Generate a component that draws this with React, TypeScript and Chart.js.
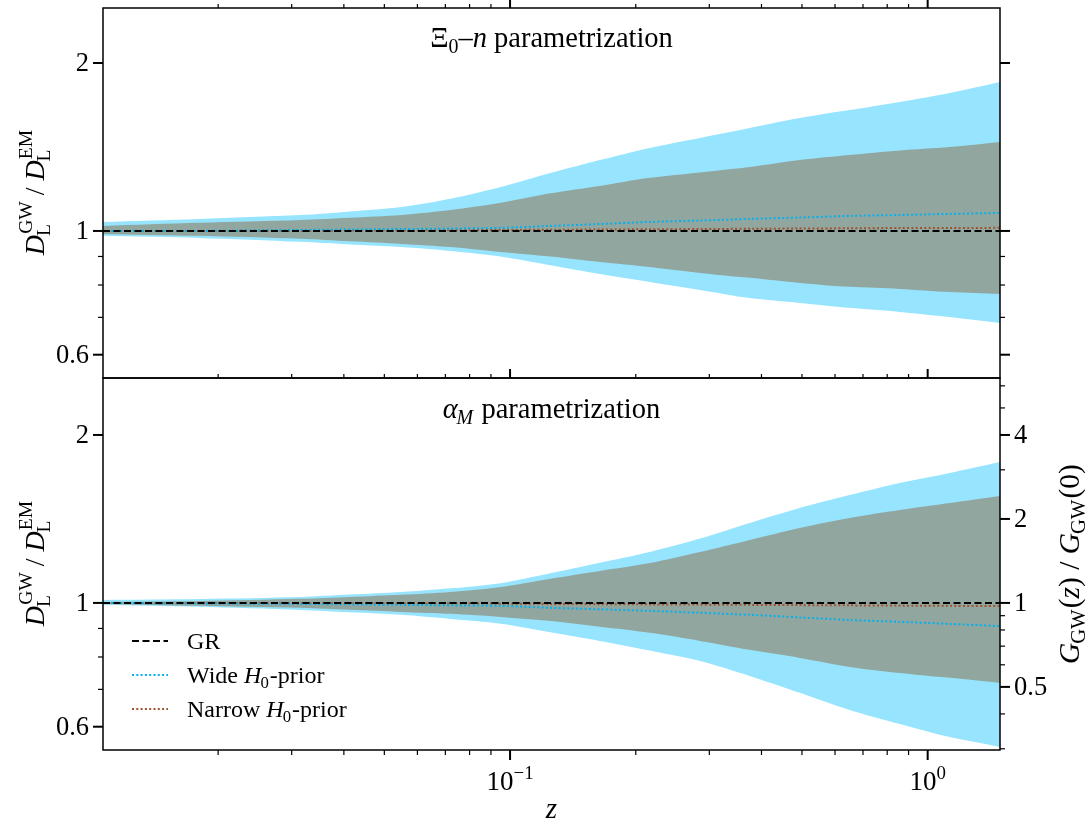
import React, { useEffect, useRef } from 'react';
import { Chart, registerables } from 'chart.js';

Chart.register(...registerables);

// ---------------- data ----------------
const zValues = [0.0106, 0.018, 0.0315, 0.0414, 0.055, 0.072, 0.095, 0.125, 0.164, 0.216, 0.285, 0.375, 0.494, 0.65, 0.857, 1.13, 1.49];

// Xi0-n parametrization (top panel)
const xiWideUpper = [1.038, 1.051, 1.068, 1.084, 1.104, 1.142, 1.199, 1.270, 1.340, 1.409, 1.468, 1.530, 1.594, 1.647, 1.703, 1.767, 1.849];
const xiWideLower = [0.980, 0.9715, 0.956, 0.946, 0.936, 0.921, 0.900, 0.868, 0.837, 0.810, 0.784, 0.758, 0.743, 0.728, 0.716, 0.701, 0.684];
const xiNarrowUpper = [1.021, 1.034, 1.046, 1.056, 1.068, 1.090, 1.123, 1.168, 1.204, 1.245, 1.273, 1.302, 1.340, 1.368, 1.394, 1.414, 1.444];
const xiNarrowLower = [0.988, 0.980, 0.968, 0.958, 0.948, 0.936, 0.917, 0.900, 0.880, 0.862, 0.841, 0.824, 0.807, 0.794, 0.787, 0.777, 0.771];
const xiWideMedian = [1.000, 1.000, 1.004, 1.006, 1.008, 1.010, 1.013, 1.021, 1.029, 1.038, 1.044, 1.051, 1.057, 1.064, 1.068, 1.073, 1.077];
const xiNarrowMedian = [1.000, 1.000, 1.001, 1.0015, 1.002, 1.003, 1.004, 1.005, 1.006, 1.007, 1.008, 1.009, 1.010, 1.011, 1.012, 1.012, 1.013];

// alpha_M parametrization (bottom panel)
const amWideUpper = [1.0125, 1.0166, 1.025, 1.035, 1.046, 1.062, 1.085, 1.130, 1.180, 1.234, 1.304, 1.391, 1.480, 1.561, 1.641, 1.710, 1.789];
const amWideLower = [0.992, 0.984, 0.9715, 0.962, 0.952, 0.936, 0.918, 0.886, 0.855, 0.822, 0.787, 0.740, 0.690, 0.643, 0.607, 0.575, 0.552];
const amNarrowUpper = [1.004, 1.008, 1.017, 1.025, 1.034, 1.046, 1.068, 1.105, 1.141, 1.179, 1.234, 1.297, 1.363, 1.420, 1.468, 1.511, 1.555];
const amNarrowLower = [0.996, 0.988, 0.980, 0.972, 0.9635, 0.956, 0.944, 0.928, 0.906, 0.884, 0.855, 0.824, 0.797, 0.768, 0.749, 0.734, 0.719];
const amWideMedian = [1.000, 0.998, 0.996, 0.994, 0.992, 0.990, 0.988, 0.980, 0.974, 0.968, 0.960, 0.952, 0.942, 0.932, 0.925, 0.917, 0.909];
const amNarrowMedian = [1.000, 1.000, 0.999, 0.9985, 0.998, 0.998, 0.997, 0.996, 0.995, 0.994, 0.993, 0.992, 0.991, 0.990, 0.989, 0.988, 0.987];

// GR reference
const grZ = [0.0106, 1.49];
const grRatio = [1, 1];

// axes
const X_MIN = 0.0106;
const X_MAX = 1.49;
const Y_MIN = 0.545;
const Y_MAX_TOP = 2.51;
const Y_MAX_BOTTOM = 2.53;
const xMajorTicks = [0.1, 1];
const xMinorTicks = [0.02, 0.03, 0.04, 0.05, 0.06, 0.07, 0.08, 0.09, 0.2, 0.3, 0.4, 0.5, 0.6, 0.7, 0.8, 0.9];
const xTickExponents = ['\u22121', '0'];
const yMajorTicks = [0.6, 1, 2];
const yMajorLabels = ['0.6', '1', '2'];
const yMinorTicks = [0.7, 0.8, 0.9];
const gMajorTicks = [0.5, 1, 2, 4];
const gMajorLabels = ['0.5', '1', '2', '4'];
const gMinorTicks = [0.3, 0.4, 0.6, 0.7, 0.8, 0.9, 3, 5, 6];

// styles
const BLUE_BAND = '#97e4fe';
const GRAY_BAND = '#92a6a0';
const WIDE_COLOR = '#00b2ee';
const NARROW_COLOR = '#a0522d';
const FONT = '"Liberation Serif", "DejaVu Serif", "Times New Roman", serif';

type Seg = { t: string; it?: boolean; sub?: string; sup?: string; subIt?: boolean };

function fnt(size: number, it?: boolean) {
  return `${it ? 'italic ' : ''}${size}px ${FONT}`;
}

function measureRich(ctx: CanvasRenderingContext2D, segs: Seg[], size: number) {
  let w = 0;
  for (const s of segs) {
    ctx.font = fnt(size, s.it);
    w += ctx.measureText(s.t).width;
    let sw = 0;
    if (s.sub) {
      ctx.font = fnt(size * 0.7, s.subIt);
      sw = Math.max(sw, ctx.measureText(s.sub).width);
    }
    if (s.sup) {
      ctx.font = fnt(size * 0.7, false);
      sw = Math.max(sw, ctx.measureText(s.sup).width);
    }
    w += sw;
  }
  return w;
}

function drawRich(ctx: CanvasRenderingContext2D, segs: Seg[], x: number, y: number, size: number, align: 'left' | 'center' | 'right') {
  const w = measureRich(ctx, segs, size);
  let cx = align === 'center' ? x - w / 2 : align === 'right' ? x - w : x;
  ctx.textAlign = 'left';
  ctx.textBaseline = 'alphabetic';
  for (const s of segs) {
    ctx.font = fnt(size, s.it);
    ctx.fillText(s.t, cx, y);
    cx += ctx.measureText(s.t).width;
    let sw = 0;
    if (s.sub) {
      ctx.font = fnt(size * 0.7, s.subIt);
      ctx.fillText(s.sub, cx - (s.it ? size * 0.04 : 0), y + size * 0.2);
      sw = Math.max(sw, ctx.measureText(s.sub).width);
    }
    if (s.sup) {
      ctx.font = fnt(size * 0.7, false);
      ctx.fillText(s.sup, cx + (s.it ? size * 0.04 : 0), y - size * 0.42);
      sw = Math.max(sw, ctx.measureText(s.sup).width);
    }
    cx += sw;
  }
}

function line(ctx: CanvasRenderingContext2D, x1: number, y1: number, x2: number, y2: number, w: number) {
  ctx.lineWidth = w;
  ctx.beginPath();
  ctx.moveTo(x1, y1);
  ctx.lineTo(x2, y2);
  ctx.stroke();
}

const dLabel: Seg[] = [
  { t: 'D', it: true, sub: 'L', sup: 'GW' },
  { t: ' / ' },
  { t: 'D', it: true, sub: 'L', sup: 'EM' },
];
const gLabel: Seg[] = [
  { t: 'G', it: true, sub: 'GW' },
  { t: '(' },
  { t: 'z', it: true },
  { t: ') / ' },
  { t: 'G', it: true, sub: 'GW' },
  { t: '(0)' },
];
const topTitle: Seg[] = [{ t: '\u039E', sub: '0' }, { t: '\u2013' }, { t: 'n', it: true }, { t: ' parametrization' }];
const bottomTitle: Seg[] = [{ t: '\u03B1', it: true, sub: 'M', subIt: true }, { t: ' parametrization' }];

function decorPlugin(panel: 'top' | 'bottom') {
  return {
    id: 'decor_' + panel,
    afterDraw(chart: any) {
      const ctx: CanvasRenderingContext2D = chart.ctx;
      const xs = chart.scales.x;
      const ys = chart.scales.y;
      const { left, right, top, bottom } = chart.chartArea;
      ctx.save();
      ctx.strokeStyle = '#000';
      ctx.fillStyle = '#000';
      ctx.setLineDash([]);
      // spines
      ctx.lineWidth = 1.5;
      ctx.strokeRect(left, top, right - left, bottom - top);

      // left ticks + labels
      yMajorTicks.forEach((v, i) => {
        const py = ys.getPixelForValue(v);
        line(ctx, left - 10, py, left, py, 2);
        ctx.font = fnt(26.5);
        ctx.textAlign = 'right';
        ctx.textBaseline = 'middle';
        ctx.fillText(yMajorLabels[i], left - 14, py + 1);
      });
      yMinorTicks.forEach((v) => {
        const py = ys.getPixelForValue(v);
        line(ctx, left - 5, py, left, py, 1.2);
      });

      if (panel === 'top') {
        // right ticks mirrored, no labels
        yMajorTicks.forEach((v) => {
          const py = ys.getPixelForValue(v);
          line(ctx, right, py, right + 10, py, 2);
        });
        yMinorTicks.forEach((v) => {
          const py = ys.getPixelForValue(v);
          line(ctx, right, py, right + 5, py, 1.2);
        });
        // x ticks on top (outward) and at bottom (pointing up)
        xMajorTicks.forEach((v) => {
          const px = xs.getPixelForValue(v);
          line(ctx, px, top, px, top - 10, 2);
          line(ctx, px, bottom, px, bottom - 9, 2);
        });
        xMinorTicks.forEach((v) => {
          const px = xs.getPixelForValue(v);
          line(ctx, px, top, px, top - 4, 1.2);
          line(ctx, px, bottom, px, bottom - 4, 1.2);
        });
        drawRich(ctx, topTitle, (left + right) / 2, 47, 28.5, 'center');
      } else {
        // right G axis
        gMajorTicks.forEach((g, i) => {
          const py = ys.getPixelForValue(Math.sqrt(g));
          line(ctx, right, py, right + 10, py, 2);
          ctx.font = fnt(26.5);
          ctx.textAlign = 'left';
          ctx.textBaseline = 'middle';
          ctx.fillText(gMajorLabels[i], right + 14, py + 1);
        });
        gMinorTicks.forEach((g) => {
          const py = ys.getPixelForValue(Math.sqrt(g));
          line(ctx, right, py, right + 5, py, 1.2);
        });
        // x ticks bottom
        xMajorTicks.forEach((v, i) => {
          const px = xs.getPixelForValue(v);
          line(ctx, px, bottom, px, bottom + 10, 2);
          drawRich(ctx, [{ t: '10', sup: xTickExponents[i] }], px, bottom + 40, 27, 'center');
        });
        xMinorTicks.forEach((v) => {
          const px = xs.getPixelForValue(v);
          line(ctx, px, bottom, px, bottom + 5, 1.2);
        });
        drawRich(ctx, [{ t: 'z', it: true }], (left + right) / 2, bottom + 68, 29, 'center');
        drawRich(ctx, bottomTitle, (left + right) / 2, top + 40, 28.5, 'center');

        // right label
        ctx.save();
        ctx.translate(right + 69, (top + bottom) / 2);
        ctx.rotate(-Math.PI / 2);
        drawRich(ctx, gLabel, 0, 10, 29.5, 'center');
        ctx.restore();

        // legend
        const legendItems: { segs: Seg[]; color: string; dash: number[] }[] = [
          { segs: [{ t: 'GR' }], color: '#000', dash: [7, 3.5] },
          { segs: [{ t: 'Wide ' }, { t: 'H', it: true, sub: '0' }, { t: '-prior' }], color: WIDE_COLOR, dash: [2, 2.3] },
          { segs: [{ t: 'Narrow ' }, { t: 'H', it: true, sub: '0' }, { t: '-prior' }], color: NARROW_COLOR, dash: [2, 2.3] },
        ];
        legendItems.forEach((it, i) => {
          const ly = bottom - 109 + i * 34;
          ctx.save();
          ctx.strokeStyle = it.color;
          ctx.setLineDash(it.dash);
          line(ctx, left + 29, ly, left + 65, ly, 2);
          ctx.restore();
          ctx.fillStyle = '#000';
          drawRich(ctx, it.segs, left + 84, ly + 8, 24, 'left');
        });
      }

      // left y label
      ctx.save();
      ctx.translate(left - 69, (top + bottom) / 2);
      ctx.rotate(-Math.PI / 2);
      drawRich(ctx, dLabel, 0, 10, 28, 'center');
      ctx.restore();

      ctx.restore();
    },
  };
}

function pts(xv: number[], yv: number[]) {
  return xv.map((x, i) => ({ x, y: yv[i] }));
}

function buildDatasets(wu: number[], wl: number[], nu: number[], nl: number[], wm: number[], nm: number[]) {
  const band = { borderWidth: 0, borderColor: 'rgba(0,0,0,0)', pointRadius: 0, tension: 0.3 };
  return [
    { ...band, label: 'wideUpper', data: pts(zValues, wu), fill: 1, backgroundColor: BLUE_BAND, order: 4 },
    { ...band, label: 'wideLower', data: pts(zValues, wl), fill: false, order: 4 },
    { ...band, label: 'narrowUpper', data: pts(zValues, nu), fill: 3, backgroundColor: GRAY_BAND, order: 3 },
    { ...band, label: 'narrowLower', data: pts(zValues, nl), fill: false, order: 3 },
    { label: 'Narrow', data: pts(zValues, nm), borderColor: NARROW_COLOR, borderWidth: 2, borderDash: [2, 2.3], pointRadius: 0, fill: false, order: 2, tension: 0.3 },
    { label: 'Wide', data: pts(zValues, wm), borderColor: WIDE_COLOR, borderWidth: 2, borderDash: [2, 2.3], pointRadius: 0, fill: false, order: 1, tension: 0.3 },
    { label: 'GR', data: pts(grZ, grRatio), borderColor: '#000', borderWidth: 2, borderDash: [7, 3.5], pointRadius: 0, fill: false, order: 0 },
  ];
}

function makeConfig(panel: 'top' | 'bottom'): any {
  const isTop = panel === 'top';
  const datasets = isTop
    ? buildDatasets(xiWideUpper, xiWideLower, xiNarrowUpper, xiNarrowLower, xiWideMedian, xiNarrowMedian)
    : buildDatasets(amWideUpper, amWideLower, amNarrowUpper, amNarrowLower, amWideMedian, amNarrowMedian);
  return {
    type: 'line',
    data: { datasets },
    options: {
      responsive: false,
      animation: false,
      devicePixelRatio: 1,
      layout: {
        padding: isTop ? { left: 103, right: 90, top: 8, bottom: 2 } : { left: 103, right: 90, top: 2, bottom: 76 },
      },
      plugins: { legend: { display: false }, tooltip: { enabled: false } },
      scales: {
        x: { type: 'logarithmic', min: X_MIN, max: X_MAX, display: false },
        y: { type: 'logarithmic', min: Y_MIN, max: isTop ? Y_MAX_TOP : Y_MAX_BOTTOM, display: false },
      },
    },
    plugins: [decorPlugin(panel)],
  };
}

export default function App() {
  const topRef = useRef<HTMLCanvasElement | null>(null);
  const bottomRef = useRef<HTMLCanvasElement | null>(null);

  useEffect(() => {
    const c1 = new Chart(topRef.current as HTMLCanvasElement, makeConfig('top'));
    const c2 = new Chart(bottomRef.current as HTMLCanvasElement, makeConfig('bottom'));
    return () => {
      c1.destroy();
      c2.destroy();
    };
  }, []);

  return (
    <div style={{ position: 'absolute', left: 0, top: 0, width: 1090, height: 826, background: '#fff' }}>
      <canvas ref={topRef} width={1090} height={380} style={{ position: 'absolute', left: 0, top: 0, width: 1090, height: 380 }} />
      <canvas ref={bottomRef} width={1090} height={450} style={{ position: 'absolute', left: 0, top: 376, width: 1090, height: 450 }} />
    </div>
  );
}
